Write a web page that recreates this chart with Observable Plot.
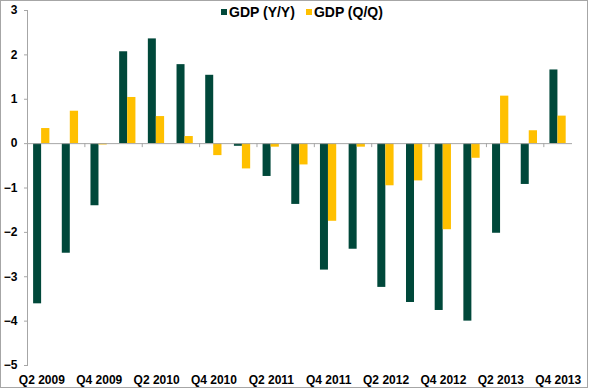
<!DOCTYPE html>
<html>
<head>
<meta charset="utf-8">
<script src="https://cdn.jsdelivr.net/npm/d3@7"></script>
<script src="https://cdn.jsdelivr.net/npm/@observablehq/plot@0.6"></script>
<style>
  html, body { margin: 0; padding: 0; background: #fff; }
  #wrap { position: relative; width: 590px; height: 390px; font-family: "Liberation Sans", Arial, sans-serif; }
  #border { position: absolute; left: 0; top: 0; width: 586px; height: 386px; border: 1px solid #a6a6a6; pointer-events: none; }
  #legend { position: absolute; left: 221px; top: 4px; display: flex; gap: 11px; font-weight: bold; font-size: 14px; color: #000; }
  #legend span.sw { display: inline-block; width: 6px; height: 6px; margin-right: 2px; vertical-align: 2px; }
  svg { display: block; }
</style>
</head>
<body>
<div id="wrap">
  <div id="chart"></div>
  <div id="legend"></div>
  <div id="border"></div>
</div>
<script>
const quarters = ["Q2 2009","Q3 2009","Q4 2009","Q1 2010","Q2 2010","Q3 2010","Q4 2010","Q1 2011","Q2 2011","Q3 2011","Q4 2011","Q1 2012","Q2 2012","Q3 2012","Q4 2012","Q1 2013","Q2 2013","Q3 2013","Q4 2013"];
const gdpYoY = [-3.61,-2.47,-1.40,2.07,2.36,1.78,1.54,-0.06,-0.74,-1.37,-2.85,-2.38,-3.24,-3.58,-3.76,-4.00,-2.02,-0.92,1.66];
const gdpQoQ = [0.34,0.73,-0.03,1.04,0.61,0.16,-0.27,-0.57,-0.08,-0.48,-1.75,-0.08,-0.95,-0.84,-1.94,-0.33,1.07,0.29,0.62];
const seriesNames = ["GDP (Y/Y)","GDP (Q/Q)"];
const seriesColors = ["#00483a","#ffc000"];
const yTicks = [-5,-4,-3,-2,-1,0,1,2,3];
const xLabels = quarters.filter((q, i) => i % 2 === 0);
const boundaryTicks = quarters.filter((q, i) => i > 0 && i % 2 === 0);

const W = 590, H = 390, ML = 27, MR = 18, MT = 10, MB = 25;
const bw = (W - ML - MR) / quarters.length;

const rows = quarters.map((q, i) => ({q, yoy: gdpYoY[i], qoq: gdpQoQ[i]}));
const gray = "#a6a6a6";

const chart = Plot.plot({
  width: W, height: H,
  marginLeft: ML, marginRight: MR, marginTop: MT, marginBottom: MB,
  style: {fontFamily: "'Liberation Sans', Arial, sans-serif", fontSize: "12px", background: "transparent"},
  x: {domain: quarters, padding: 0, round: false, axis: null},
  y: {domain: [-5, 3], axis: null},
  marks: [
    Plot.barY(rows, {x: "q", y: "yoy", fill: seriesColors[0], insetLeft: bw * 0.213, insetRight: bw * 0.508}),
    Plot.barY(rows, {x: "q", y: "qoq", fill: seriesColors[1], insetLeft: bw * 0.492, insetRight: bw * 0.22}),
    Plot.frame({anchor: "left", stroke: gray}),
    Plot.axisY(yTicks, {tickSize: 3, tickPadding: 7, stroke: gray, fill: "#000", fontWeight: "bold", fontSize: 12, label: null}),
    Plot.ruleY([0], {stroke: gray}),
    Plot.ruleX(boundaryTicks, {x: d => d, dx: -bw / 2, y1: () => 0, y2: () => 0, insetBottom: -4, stroke: gray}),
    Plot.axisX(xLabels, {tickSize: 0, tickPadding: 10, fill: "#000", fontWeight: "bold", fontSize: 12, label: null})
  ]
});
document.getElementById("chart").appendChild(chart);

const legend = document.getElementById("legend");
seriesNames.forEach((name, i) => {
  const item = document.createElement("div");
  const sw = document.createElement("span");
  sw.className = "sw";
  sw.style.background = seriesColors[i];
  item.appendChild(sw);
  item.appendChild(document.createTextNode(name));
  legend.appendChild(item);
});
</script>
</body>
</html>
